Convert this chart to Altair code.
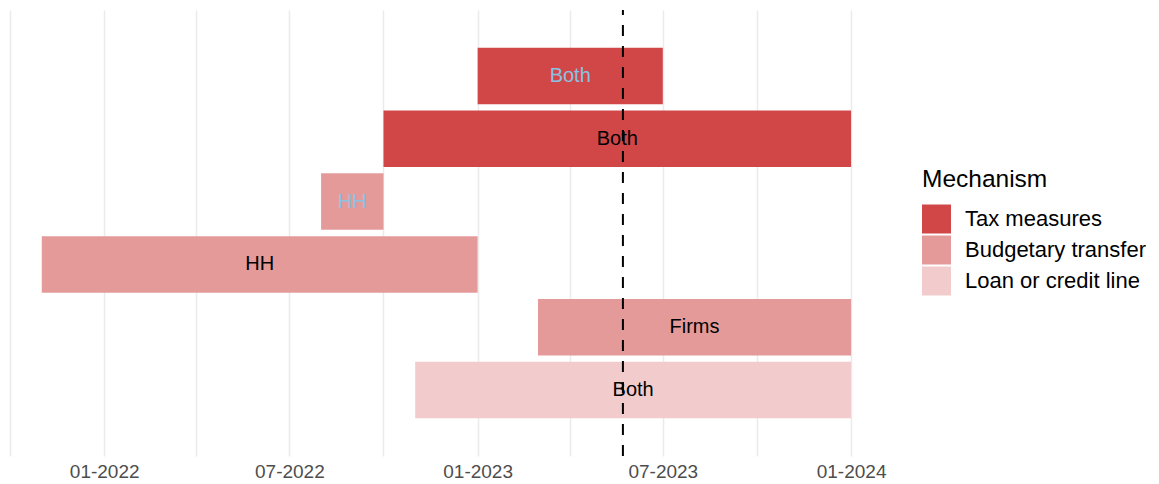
import altair as alt
import pandas as pd

# ---- data ----
rows = ["r1", "r2", "r3", "r4", "r5", "r6"]
starts = ["2023-01-01", "2022-10-01", "2022-08-01", "2021-11-01", "2023-03-01", "2022-11-01"]
ends = ["2023-07-01", "2024-01-01", "2022-10-01", "2023-01-01", "2024-01-01", "2024-01-01"]
mechanisms = ["Tax measures", "Tax measures", "Budgetary transfer",
              "Budgetary transfer", "Budgetary transfer", "Loan or credit line"]
labels = ["Both", "Both", "HH", "HH", "Firms", "Both"]
label_colors = ["#8cc1e2", "#000000", "#8cc1e2", "#000000", "#000000", "#000000"]
mech_order = ["Tax measures", "Budgetary transfer", "Loan or credit line"]
mech_colors = ["#d14748", "#e59a9a", "#f2cbcc"]
reference_date = ["2023-05-23"]
tick_dates = [(2021, 10), (2022, 1), (2022, 4), (2022, 7), (2022, 10),
              (2023, 1), (2023, 4), (2023, 7), (2023, 10), (2024, 1)]

df = pd.DataFrame({
    "row": rows,
    "start": [s + "T00:00:00Z" for s in starts],
    "end": [e + "T00:00:00Z" for e in ends],
    "mechanism": mechanisms,
    "label": labels,
    "tcol": label_colors,
})
ref_df = pd.DataFrame({"date": [d + "T00:00:00Z" for d in reference_date]})

W, H = 884, 446
FONT = "Liberation Sans"

xscale = alt.Scale(
    type="utc",
    domain=[alt.DateTime(year=2021, month=9, date=29, utc=True),
            alt.DateTime(year=2024, month=2, date=10, utc=True)],
)
xaxis = alt.Axis(
    title=None,
    values=[alt.DateTime(year=y, month=m, date=1, utc=True) for y, m in tick_dates],
    labelExpr="utcmonth(datum.value) % 6 == 0 ? utcFormat(datum.value, '%m-%Y') : ''",
    grid=True, ticks=False, domain=False,
)
yenc = alt.Y("row:O", sort=rows, axis=None,
             scale=alt.Scale(paddingInner=0.1, paddingOuter=0.6))

base = alt.Chart(df)

bars = base.mark_bar().encode(
    x=alt.X("start:T", scale=xscale, axis=xaxis),
    x2="end:T",
    y=yenc,
    color=alt.Color(
        "mechanism:N",
        scale=alt.Scale(domain=mech_order, range=mech_colors),
        sort=mech_order,
        legend=alt.Legend(
            title="Mechanism", orient="none", legendX=914, legendY=158,
            symbolType="square", symbolSize=841, symbolStrokeWidth=0,
            symbolOpacity=1, labelOffset=14, rowPadding=2, titlePadding=12,
            padding=0, labelLimit=0,
        ),
    ),
)

text = base.transform_calculate(
    mid="(time(datum.start) + time(datum.end)) / 2"
).mark_text(fontSize=20, font=FONT, baseline="middle", align="center").encode(
    x=alt.X("mid:T", scale=xscale, axis=xaxis),
    y=yenc,
    fill=alt.Fill("tcol:N", scale=None, legend=None),
    text="label:N",
)

vline = alt.Chart(ref_df).mark_rule(
    color="black", strokeWidth=2, strokeDash=[11, 10]
).encode(
    x=alt.X("date:T", scale=xscale, axis=xaxis),
    y=alt.value(H),
    y2=alt.value(0),
)

chart = alt.layer(bars, text, vline).resolve_scale(
    color="independent", fill="independent"
).properties(
    width=W, height=H,
    padding={"left": 0, "top": 1, "right": 0, "bottom": 0},
).configure_view(stroke=None).configure_axis(
    labelFont=FONT, labelFontSize=19, labelColor="#4d4d4d", labelPadding=6,
    gridColor="#ebebeb", gridWidth=1.5,
).configure_legend(
    titleFont=FONT, titleFontSize=24.5, titleFontWeight="normal", titleColor="black",
    labelFont=FONT, labelFontSize=22, labelColor="black", labelLimit=0,
)

chart.save("out.html", embed_options={"renderer": "svg", "actions": False})
